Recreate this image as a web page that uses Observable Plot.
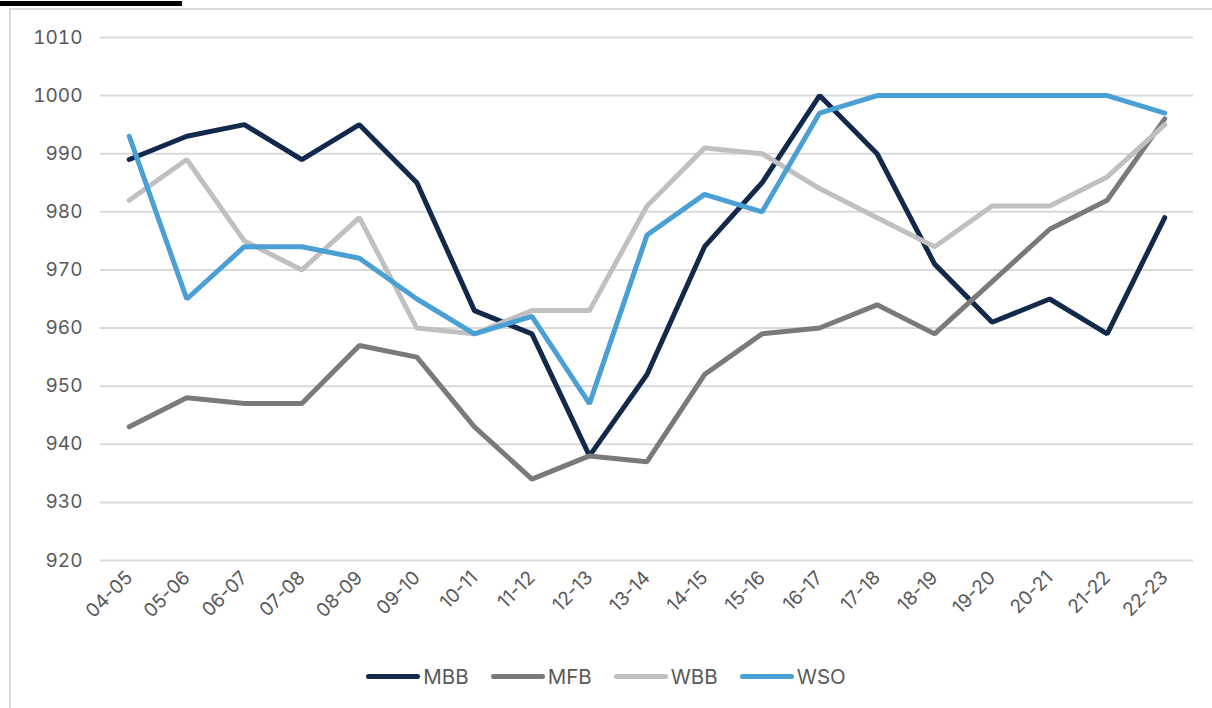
<!DOCTYPE html>
<html>
<head>
<meta charset="utf-8">
<script src="https://cdn.jsdelivr.net/npm/d3@7"></script>
<script src="https://cdn.jsdelivr.net/npm/@observablehq/plot@0.6"></script>
<style>
  html, body { margin: 0; padding: 0; background: #fff; }
  body { width: 1212px; height: 708px; position: relative; overflow: hidden; font-family: Inter, "Noto Sans", sans-serif; }
  #frame { position: absolute; left: 9px; top: 8px; width: 1210px; height: 710px; border-left: 2px solid #d9d9d9; border-top: 2px solid #d9d9d9; box-sizing: border-box; }
  #bar { position: absolute; left: 0; top: 1px; width: 182px; height: 5px; background: #000; }
  #chart { position: absolute; left: 0; top: 0; }
  #legend { position: absolute; left: 0; top: 664px; width: 1212px; display: flex; justify-content: center; gap: 22px; font-size: 20.5px; color: #595959; }
  .item { display: flex; align-items: center; gap: 3px; }
  .swatch { width: 54px; height: 5px; border-radius: 3px; }
</style>
</head>
<body>
<div id="frame"></div>
<div id="bar"></div>
<div id="chart"></div>
<div id="legend"></div>
<script>
const seasons = ["04-05","05-06","06-07","07-08","08-09","09-10","10-11","11-12","12-13","13-14","14-15","15-16","16-17","17-18","18-19","19-20","20-21","21-22","22-23"];
const seriesNames = ["MBB","MFB","WBB","WSO"];
const seriesColors = ["#13294b","#7a7a7a","#c0c0c0","#4a9fd5"];
const MBB = [989,993,995,989,995,985,963,959,938,952,974,985,1000,990,971,961,965,959,979];
const MFB = [943,948,947,947,957,955,943,934,938,937,952,959,960,964,959,968,977,982,996];
const WBB = [982,989,975,970,979,960,959,963,963,981,991,990,984,979,974,981,981,986,995];
const WSO = [993,965,974,974,972,965,959,962,947,976,983,980,997,1000,1000,1000,1000,1000,997];
const yTicks = [920,930,940,950,960,970,980,990,1000,1010];

const valuesBySeries = {MBB, MFB, WBB, WSO};
const data = [];
for (const s of seriesNames) {
  valuesBySeries[s].forEach((v, i) => data.push({series: s, season: seasons[i], value: v}));
}

const chart = Plot.plot({
  width: 1212,
  height: 640,
  marginLeft: 100,
  marginRight: 19,
  marginTop: 37,
  marginBottom: 80,
  style: {fontFamily: 'Inter, "Noto Sans", sans-serif', fontSize: "19px", color: "#595959", background: "transparent"},
  x: {type: "point", domain: seasons, padding: 0.5, round: false, label: null},
  y: {domain: [920, 1010], ticks: yTicks, label: null},
  color: {domain: seriesNames, range: seriesColors},
  marks: [
    Plot.gridY(yTicks, {stroke: "#d9d9d9", strokeOpacity: 1, strokeWidth: 2}),
    Plot.axisY(yTicks, {tickSize: 0, tickPadding: 18, fill: "#595959", fontSize: 19, tickFormat: d => String(d)}),
    Plot.axisX({tickSize: 0, tickRotate: -45, tickPadding: 14, fill: "#595959", fontSize: 19}),
    Plot.line(data, {x: "season", y: "value", z: "series", stroke: "series", strokeWidth: 5, strokeLinejoin: "miter", strokeLinecap: "round"})
  ]
});
document.getElementById("chart").appendChild(chart);

const legend = document.getElementById("legend");
seriesNames.forEach((s, i) => {
  const item = document.createElement("div");
  item.className = "item";
  const sw = document.createElement("div");
  sw.className = "swatch";
  sw.style.background = seriesColors[i];
  const t = document.createElement("span");
  t.textContent = s;
  item.appendChild(sw);
  item.appendChild(t);
  legend.appendChild(item);
});
</script>
</body>
</html>
